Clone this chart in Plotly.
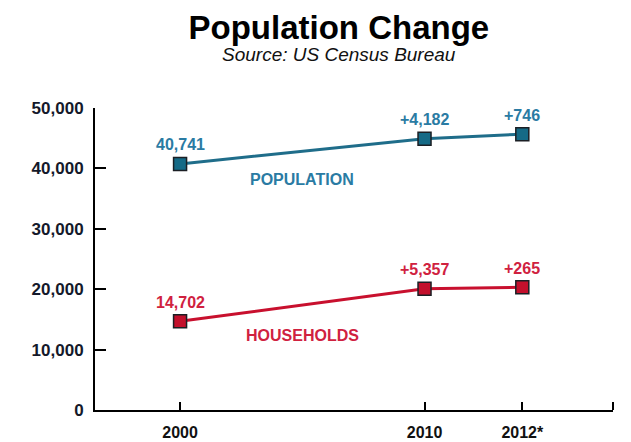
import plotly.graph_objects as go

# ---- data ----
years = ["2000", "2010", "2012*"]
population = [40741, 44923, 45669]
households = [14702, 20059, 20324]
pop_labels = ["40,741", "+4,182", "+746"]
hh_labels = ["14,702", "+5,357", "+265"]
y_ticks = [0, 10000, 20000, 30000, 40000, 50000]

# ---- styles ----
TEAL_LINE = "#1f6d8a"
TEAL_MARK = "#156a86"
TEAL_TEXT = "#2a7ba3"
RED_LINE = "#c8102e"
RED_MARK = "#c3102c"
RED_TEXT = "#d0213f"
FONT = "Liberation Sans, Arial, sans-serif"

# uneven spacing of the time categories (spacer slots)
slots = ["2000", "_1", "_2", "_3", "_4", "2010", "_6", "2012*"]

fig = go.Figure()
for vals, lc, mc in [(population, TEAL_LINE, TEAL_MARK), (households, RED_LINE, RED_MARK)]:
    fig.add_trace(go.Scatter(
        x=years, y=vals, mode="lines+markers",
        line=dict(color=lc, width=3),
        marker=dict(symbol="square", size=13, color=mc,
                    line=dict(color="#1b1f24", width=1.5)),
        showlegend=False, hoverinfo="skip",
    ))

for vals, labs, col in [(population, pop_labels, TEAL_TEXT), (households, hh_labels, RED_TEXT)]:
    for x, y, t in zip(years, vals, labs):
        fig.add_annotation(x=slots.index(x), y=y, text=t, showarrow=False, yanchor="middle",
                           xanchor="center", yshift=19,
                           font=dict(family=FONT, size=16, color=col, weight="bold"))

fig.add_annotation(xref="paper", yref="paper", x=0.3996, y=0.7616, text="POPULATION",
                   showarrow=False, xanchor="center", yanchor="middle",
                   font=dict(family=FONT, size=16, color=TEAL_TEXT, weight="bold"))
fig.add_annotation(xref="paper", yref="paper", x=0.4015, y=0.248, text="HOUSEHOLDS",
                   showarrow=False, xanchor="center", yanchor="middle",
                   font=dict(family=FONT, size=16, color=RED_TEXT, weight="bold"))

fig.add_annotation(xref="paper", yref="paper", x=0.471, y=1.1755, text="<i>Source: US Census Bureau</i>",
                   showarrow=False, xanchor="center", yanchor="middle",
                   font=dict(family=FONT, size=19, color="#111111"))

# end tick at the right end of the x axis
fig.add_shape(type="line", xref="x domain", x0=1, x1=1, yref="y", ysizemode="pixel",
              yanchor=0, y0=0, y1=8, line=dict(color="black", width=2))

fig.update_layout(
    width=631, height=442,
    margin=dict(l=95, r=18, t=108, b=32),
    paper_bgcolor="white", plot_bgcolor="white",
    title=dict(text="<b>Population Change</b>", x=0.537, xanchor="center",
               y=1 - 27 / 442, yanchor="middle", yref="container",
               font=dict(family=FONT, size=33, color="#000000")),
    xaxis=dict(type="category", categoryorder="array", categoryarray=slots,
               range=[-1.74, 8.855], tickvals=years, ticktext=years,
               showline=True, linecolor="black", linewidth=2,
               ticks="inside", ticklen=8, tickwidth=2, tickcolor="black",
               showgrid=False, zeroline=False, ticklabelstandoff=7, automargin=False,
               tickfont=dict(family=FONT, size=16, color="#111111", weight="bold")),
    yaxis=dict(range=[0, 50000], tickvals=y_ticks, tickformat=",d",
               showline=True, linecolor="black", linewidth=2,
               ticks="inside", ticklen=11, tickwidth=2, tickcolor="black",
               showgrid=False, zeroline=False, ticklabelstandoff=6, automargin=False,
               tickfont=dict(family=FONT, size=17, color="#14192a", weight="bold")),
)

fig.write_html("out.html", config={"displayModeBar": False},
               post_script="document.body.style.margin='0';")
